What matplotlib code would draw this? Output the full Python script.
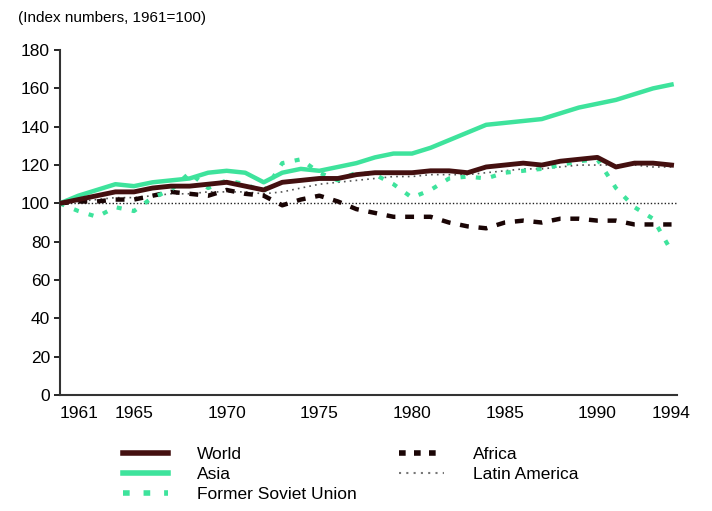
import matplotlib.pyplot as plt
from matplotlib.lines import Line2D

plt.rcParams['font.family'] = ['Liberation Sans', 'DejaVu Sans']

# Index numbers, 1961 = 100
years = list(range(1961, 1995))

world = [100, 102, 104, 106, 106, 108, 109, 109, 110, 111, 109, 107, 111, 112, 113, 113, 115,
         116, 116, 116, 117, 117, 116, 119, 120, 121, 120, 122, 123, 124, 119, 121, 121, 120]
asia = [100, 104, 107, 110, 109, 111, 112, 113, 116, 117, 116, 111, 116, 118, 117, 119, 121,
        124, 126, 126, 129, 133, 137, 141, 142, 143, 144, 147, 150, 152, 154, 157, 160, 162]
fsu = [100, 96, 93, 98, 96, 103, 107, 116, 108, 112, 110, 106, 121, 123, 116, 112, 116,
       115, 110, 103, 107, 113, 114, 113, 116, 117, 118, 120, 122, 123, 108, 98, 92, 75]
africa = [100, 101, 101, 102, 102, 104, 106, 105, 104, 107, 105, 104, 99, 102, 104, 101, 97,
          95, 93, 93, 93, 90, 88, 87, 90, 91, 90, 92, 92, 91, 91, 89, 89, 89]
latin = [100, 101, 102, 103, 103, 104, 105, 105, 106, 106, 106, 105, 106, 108, 110, 111, 112,
         113, 114, 114, 115, 115, 115, 116, 117, 118, 118, 119, 120, 120, 120, 120, 119, 119]

xticks = [1961, 1965, 1970, 1975, 1980, 1985, 1990, 1994]
yticks = [0, 20, 40, 60, 80, 100, 120, 140, 160, 180]

maroon = '#441010'
green = '#3ee39c'

fig = plt.figure(figsize=(7.12, 5.11), dpi=100)
ax = fig.add_axes([0.084, 0.227, 0.867, 0.675])

ax.axhline(100, color='#222222', lw=1.0, ls=(0, (1, 1.5)), zorder=1)
ax.plot(years, latin, color='#555555', lw=1.2, ls=(0, (1, 2.5)), zorder=2)
ax.plot(years, africa, color='#1a0505', lw=3.2, ls=(0, (2, 2.2)), zorder=3)
ax.plot(years, fsu, color=green, lw=3.0, ls=(0, (1.2, 2.5)), zorder=3)
ax.plot(years, asia, color=green, lw=3.2, zorder=4)
ax.plot(years, world, color=maroon, lw=3.5, zorder=5)

ax.set_xlim(1961, 1994.3)
ax.set_ylim(0, 180)
ax.set_xticks(xticks)
ax.set_xticklabels([str(y) for y in xticks])
ax.set_yticks(yticks)
ax.tick_params(axis='x', length=0, pad=8, labelsize=12.5)
ax.tick_params(axis='y', length=4, width=1.2, direction='out', labelsize=12.5, pad=3)
ax.get_xticklabels()[0].set_horizontalalignment('left')
for s in ['top', 'right']:
    ax.spines[s].set_visible(False)
for s in ['left', 'bottom']:
    ax.spines[s].set_linewidth(1.5)
    ax.spines[s].set_color('#333333')

fig.text(0.025, 0.965, '(Index numbers, 1961=100)', fontsize=11, va='center')

handles = [
    Line2D([], [], color=maroon, lw=4),
    Line2D([], [], color=green, lw=4),
    Line2D([], [], color=green, lw=4, ls=(0, (1.2, 2.5))),
    Line2D([], [], color='#1a0505', lw=4, ls=(0, (1.2, 1.5))),
    Line2D([], [], color='#777777', lw=1.5, ls=(0, (1, 2.5))),
]
labels = ['World', 'Asia', 'Former Soviet Union', 'Africa', 'Latin America']
fig.legend(handles, labels, ncol=2, frameon=False, fontsize=12.5,
           loc='upper left', bbox_to_anchor=(0.16, 0.143),
           handlelength=2.6, handletextpad=1.7, labelspacing=0.3,
           columnspacing=2.4, borderpad=0)

fig.savefig('out.png', dpi=100)
